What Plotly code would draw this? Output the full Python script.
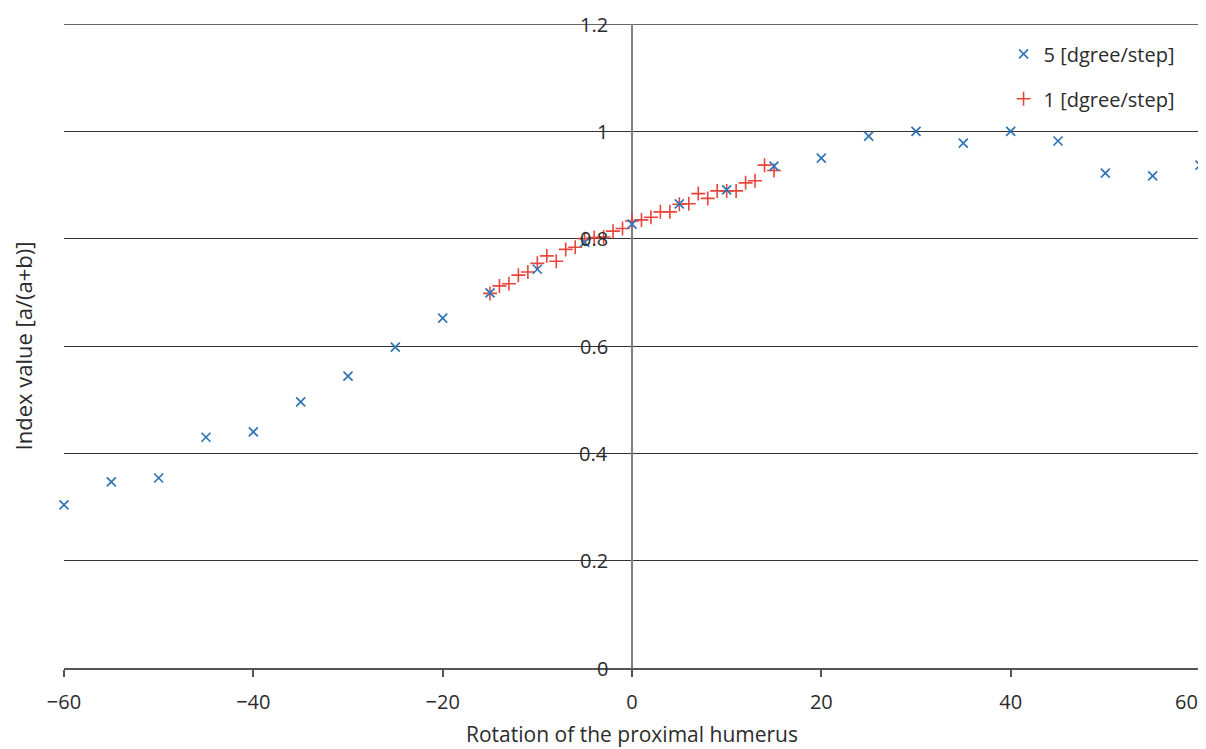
import plotly.graph_objects as go

# 5 degree/step series
x5 = [-60, -55, -50, -45, -40, -35, -30, -25, -20, -15, -10, -5, 0, 5, 10, 15, 20, 25, 30, 35, 40, 45, 50, 55, 60]
y5 = [0.304, 0.347, 0.354, 0.430, 0.440, 0.496, 0.544, 0.598, 0.652, 0.699, 0.743, 0.793, 0.827, 0.865, 0.891, 0.935,
      0.950, 0.991, 1.000, 0.978, 1.000, 0.982, 0.922, 0.917, 0.937]

# 1 degree/step series
x1 = list(range(-15, 16))
y1 = [0.698, 0.712, 0.716, 0.732, 0.738, 0.754, 0.768, 0.758, 0.780, 0.784, 0.800, 0.802, 0.803, 0.814, 0.819,
      0.833, 0.835, 0.840, 0.850, 0.850, 0.864, 0.865, 0.884, 0.875, 0.889, 0.889, 0.889, 0.904, 0.908, 0.937, 0.927]

xticks = [-60, -40, -20, 0, 20, 40, 60]
xtick_text = ["\u221260", "\u221240", "\u221220", "0", "20", "40", ""]
xlast_label = "60"
yticks = [0, 0.2, 0.4, 0.6, 0.8, 1.0, 1.2]
ytick_text = ["0", "0.2", "0.4", "0.6", "0.8", "1", "1.2"]

FONT = "Open Sans"
FS = 20
TXT = "#2b2b2b"
BLUE = "#2f74b5"
RED = "#e8453c"

fig = go.Figure()
fig.add_trace(go.Scatter(
    x=x1, y=y1, mode="markers", name="1 [dgree/step]", legendgroup="b", legendrank=2, cliponaxis=False,
    marker=dict(symbol="cross-thin", size=10, color=RED, line=dict(color=RED, width=1.6)),
))
fig.add_trace(go.Scatter(
    x=x5, y=y5, mode="markers", name="5 [dgree/step]", legendgroup="a", legendrank=1, cliponaxis=False,
    marker=dict(symbol="x-thin", size=9, color=BLUE, line=dict(color=BLUE, width=1.7)),
))

annotations = []
for v, t in zip(yticks, ytick_text):
    annotations.append(dict(x=0, y=v, xref="x", yref="y", text=t, showarrow=False,
                            xanchor="right", yanchor="middle", xshift=-22,
                            font=dict(family=FONT, size=FS, color=TXT)))
annotations.append(dict(x=xticks[-1], y=0, xref="x", yref="y", text=xlast_label, showarrow=False,
                        xanchor="right", yanchor="middle", yshift=-33,
                        font=dict(family=FONT, size=FS, color=TXT)))

fig.update_layout(
    width=1198, height=741,
    margin=dict(l=56, r=6, t=16, b=81),
    paper_bgcolor="white", plot_bgcolor="white",
    font=dict(family=FONT, size=FS, color=TXT),
    showlegend=True,
    legend=dict(x=0.982, xanchor="right", y=0.984, yanchor="top",
                font=dict(size=FS, color=TXT), tracegroupgap=16,
                bgcolor="rgba(0,0,0,0)"),
    annotations=annotations,
    shapes=[dict(type="line", xref="paper", yref="y", x0=0, x1=1, y0=yticks[-1], y1=yticks[-1],
                 line=dict(color="#333333", width=1.3), layer="below")],
    xaxis=dict(
        range=[-60, 60], tickvals=xticks, ticktext=xtick_text, showgrid=False,
        showline=True, linecolor="#555555", linewidth=1.5,
        ticks="outside", ticklen=7, tickcolor="#555555", tickwidth=1.5,
        ticklabelstandoff=8,
        zeroline=True, zerolinecolor="#808080", zerolinewidth=1.8,
        tickfont=dict(size=FS), automargin=False,
        title=dict(text="Rotation of the proximal humerus", font=dict(size=21), standoff=14),
    ),
    yaxis=dict(
        range=[0, 1.2], tickvals=yticks, showticklabels=False,
        showgrid=True, gridcolor="#333333", gridwidth=1.3,
        zeroline=False, showline=False, ticks="",
        title=dict(text="Index value [a/(a+b)]", font=dict(size=22), standoff=37),
        automargin=False,
    ),
)

fig.write_html("out.html")
